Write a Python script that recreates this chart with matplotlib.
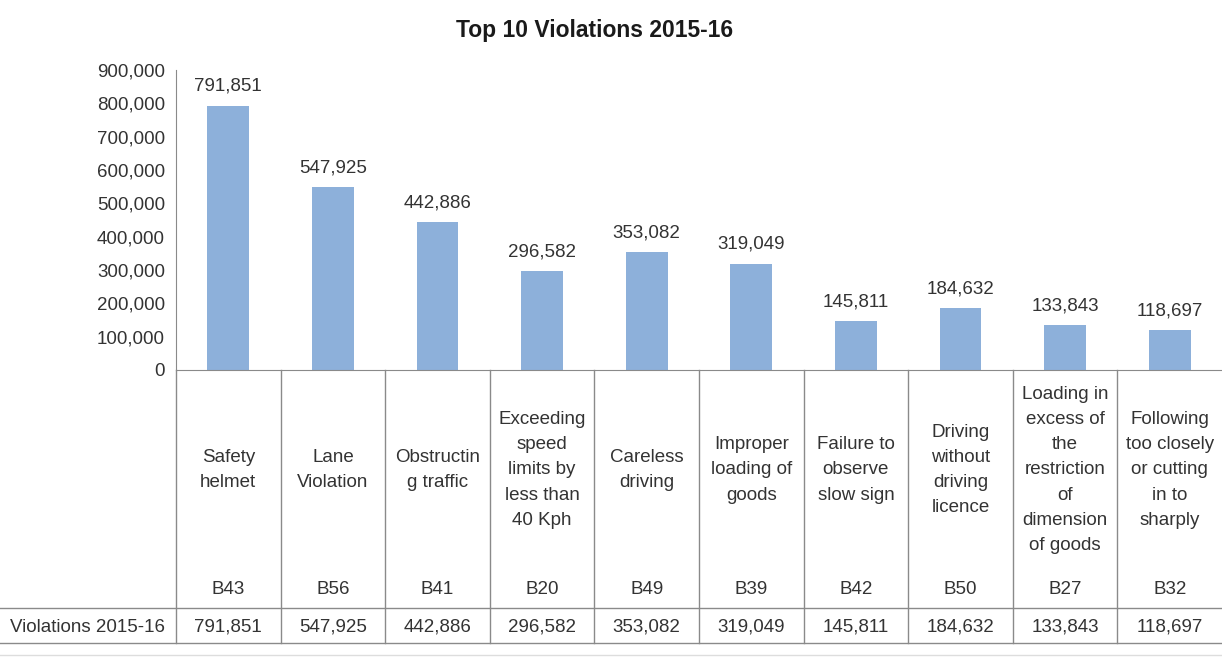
import matplotlib.pyplot as plt
import matplotlib.transforms as mtransforms

plt.rcParams['font.family'] = ['Liberation Sans', 'DejaVu Sans']

codes = ["B43", "B56", "B41", "B20", "B49", "B39", "B42", "B50", "B27", "B32"]
names = [
    "Safety\nhelmet",
    "Lane\nViolation",
    "Obstructin\ng traffic",
    "Exceeding\nspeed\nlimits by\nless than\n40 Kph",
    "Careless\ndriving",
    "Improper\nloading of\ngoods",
    "Failure to\nobserve\nslow sign",
    "Driving\nwithout\ndriving\nlicence",
    "Loading in\nexcess of\nthe\nrestriction\nof\ndimension\nof goods",
    "Following\ntoo closely\nor cutting\nin to\nsharply",
]
violations = [791851, 547925, 442886, 296582, 353082, 319049, 145811, 184632, 133843, 118697]
series_name = "Violations 2015-16"
title = "Top 10 Violations 2015-16"

W, H = 1222, 660
TXT = "#333333"
LINE = "#8a8a8a"
FS = 13.5


def fy(px):
    return 1 - px / H


fig = plt.figure(figsize=(W / 100, H / 100), dpi=100)
ax = fig.add_axes([176 / W, fy(370), (W - 176) / W, (370 - 70) / H])

x = list(range(len(codes)))
bars = ax.bar(x, violations, width=0.4, color="#8DB0DA")
ax.bar_label(bars, labels=[f"{v:,}" for v in violations], padding=8, fontsize=FS, color=TXT)

ax.set_xlim(-0.5, len(codes) - 0.5)
ax.set_ylim(0, 900000)
ax.set_yticks(range(0, 900001, 100000))
ax.set_yticklabels([f"{v:,}" for v in range(0, 900001, 100000)], fontsize=FS, color=TXT)
ax.tick_params(axis="y", length=0, pad=8)
ax.set_xticks([])
for s in ["top", "right"]:
    ax.spines[s].set_visible(False)
for s in ["left", "bottom"]:
    ax.spines[s].set_color(LINE)

fig.text(595 / W, fy(30), title, ha="center", va="center", fontsize=16.5,
         fontweight="bold", color="#1a1a1a")

# data table below the plot
trans = mtransforms.blended_transform_factory(ax.transData, fig.transFigure)
for i in x:
    ax.text(i, fy(470), names[i], transform=trans, ha="center", va="center",
            fontsize=FS, color=TXT, linespacing=1.62, clip_on=False)
    ax.text(i, fy(589), codes[i], transform=trans, ha="center", va="center",
            fontsize=FS, color=TXT, clip_on=False)
    ax.text(i, fy(627), f"{violations[i]:,}", transform=trans, ha="center", va="center",
            fontsize=FS, color=TXT, clip_on=False)

for b in [i - 0.5 for i in x]:
    ax.plot([b, b], [fy(370), fy(643)], transform=trans, color=LINE, lw=1, clip_on=False)

fig.add_artist(plt.Line2D([0, 1], [fy(608), fy(608)], color=LINE, lw=1))
fig.add_artist(plt.Line2D([0, 1], [fy(643), fy(643)], color=LINE, lw=1))
fig.add_artist(plt.Line2D([0, 1], [fy(655), fy(655)], color="#dddddd", lw=1))
fig.text(10 / W, fy(627), series_name, ha="left", va="center", fontsize=FS, color=TXT)

fig.savefig("out.png", dpi=100)
